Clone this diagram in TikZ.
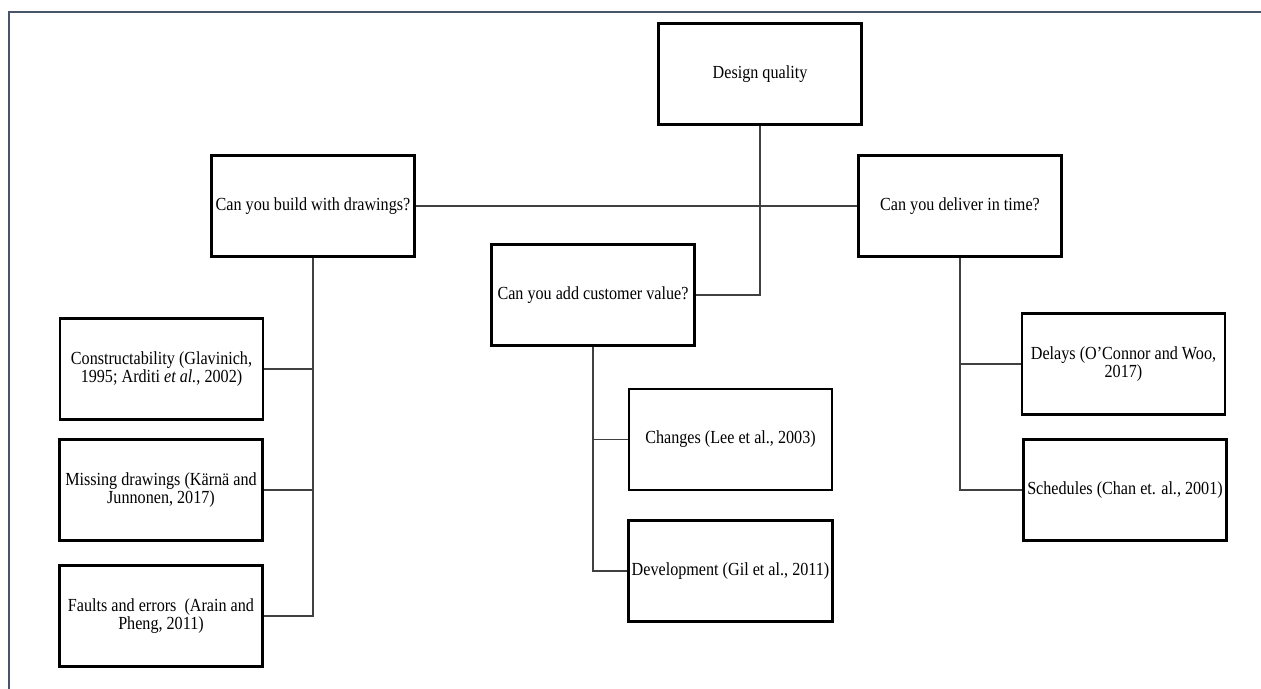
\documentclass[tikz,border=0pt]{standalone}
\usepackage{fontspec}
\setmainfont{Liberation Serif}[FakeStretch=0.875]
\usepackage{tikz}
\usepackage{xcolor}
\definecolor{framegray}{HTML}{47546A}

\begin{document}
\begin{tikzpicture}[
    box/.style={draw,line width=1.5pt,minimum width=4.06cm,minimum height=2.02cm,align=center,inner sep=2pt,font=\fontsize{10.5}{10.1}\selectfont},
    link/.style={line width=0.6pt,draw=black!75},
    frame/.style={line width=1.2pt,draw=framegray}
]
    \useasboundingbox (0,0) rectangle (25.22,-13.78);
    \draw[frame] (0.18,-13.9) |- (25.4,-0.24);
    % Top: root and the three questions
    \node[box] (quality) at (15.2,-1.48) {Design quality};
    \node[box] (build) at (6.26,-4.12) {Can you build with drawings?};
    \node[box] (customer) at (11.86,-5.9) {Can you add customer value?};
    \node[box] (deliver) at (19.2,-4.12) {Can you deliver in time?};
    % Left branch
    \node[box] (constr) at (3.23,-7.38) {
        Constructability (Glavinich,\\
        1995; Arditi \textit{et al.}, 2002)
    };
    \node[box] (missing) at (3.22,-9.8) {
        Missing drawings (Kärnä and\\
        Junnonen, 2017)
    };
    \node[box] (faults) at (3.22,-12.32) {
        Faults and errors\ \ (Arain and\\
        Pheng, 2011)
    };
    % Middle branch
    \node[box] (changes) at (14.61,-8.79) {Changes (Lee et al., 2003)};
    \node[box] (develop) at (14.61,-11.42) {Development (Gil et al., 2011)};
    % Right branch
    \node[box] (delays) at (22.47,-7.28) {
        Delays (O’Connor and Woo,\\
        2017)
    };
    \node[box] (sched) at (22.5,-9.8) {Schedules (Chan et. al., 2001)};
    % Links
    \draw[link] (build) -- (deliver);
    \draw[link] (quality.south) |- (customer.east);
    \draw[link] (build.south) |- (faults.east);
    \draw[link] (constr.east) -| (build.south);
    \draw[link] (missing.east) -| (build.south);
    \draw[link] (customer.south) |- (develop.west);
    \draw[link] (changes.west) -| (customer.south);
    \draw[link] (deliver.south) |- (sched.west);
    \draw[link] (delays.west) -| (deliver.south);
\end{tikzpicture}
\end{document}
